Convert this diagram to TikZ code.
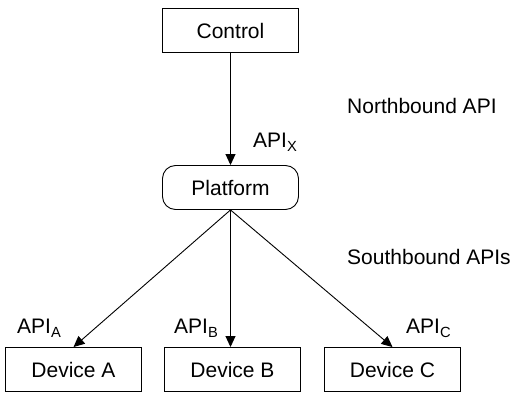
\documentclass[tikz,border=0pt]{standalone}
\usepackage{fontspec}
\setmainfont{Liberation Sans}
\usetikzlibrary{arrows.meta}
\tikzset{
  box/.style={draw, line width=0.9pt, minimum width=136pt, minimum height=44pt, inner sep=0pt},
  plat/.style={box, rounded corners=13pt},
  lbl/.style={inner sep=0pt, anchor=base west},
  link/.style={line width=0.9pt, -{Triangle[length=11pt,width=10pt]}}
}
\begin{document}
\begin{tikzpicture}[x=1pt,y=-1pt,font=\fontsize{21}{25}\selectfont]
\useasboundingbox (0,0) rectangle (512,393);
\node[box] (control) at (230.5,30.5) {Control};
\node[plat] (platform) at (230.5,187.5) {Platform};
\node[box] (devA) at (73.5,369.5) {Device A};
\node[box] (devB) at (232.5,369.5) {Device B};
\node[box] (devC) at (392.5,369.5) {Device C};

\draw[link] (control) -- (platform);
\draw[link] (platform.south) -- (devA.north);
\draw[link] (platform.south) -- (platform.south |- devB.north);
\draw[link] (platform.south) -- (devC.north);

\node[lbl] (apix) at (253,148) {API\textsubscript{X}};
\node[lbl] (apia) at (17,334) {API\textsubscript{A}};
\node[lbl] (apib) at (174,334) {API\textsubscript{B}};
\node[lbl] (apic) at (406,334) {API\textsubscript{C}};
\node[lbl] (north) at (347,114) {Northbound API};
\node[lbl] (south) at (347,265) {Southbound APIs};
\end{tikzpicture}
\end{document}
